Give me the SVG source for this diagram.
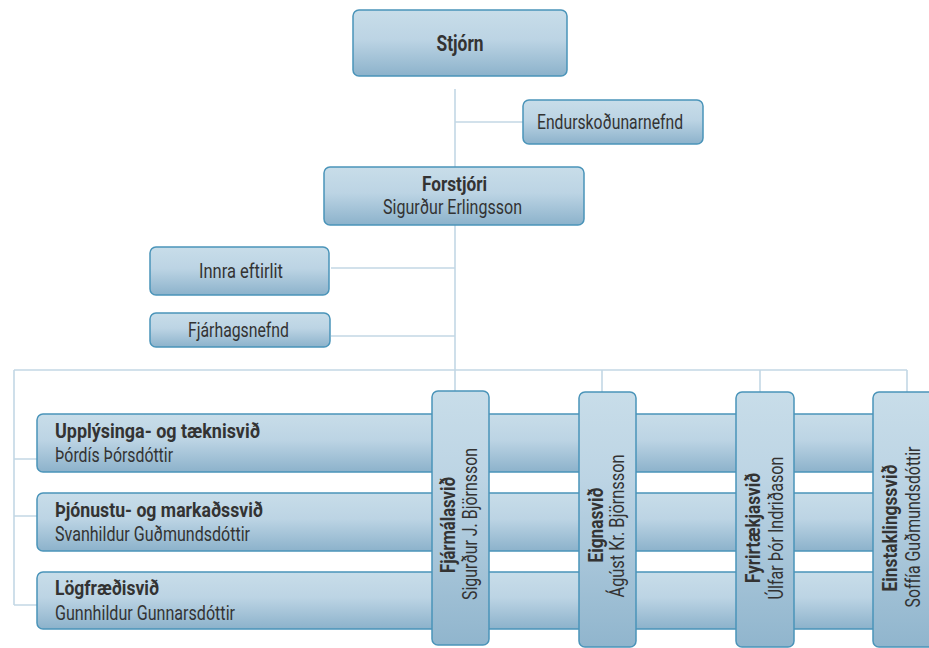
<svg xmlns="http://www.w3.org/2000/svg" width="929" height="648" viewBox="0 0 929 648">
<defs>
<linearGradient id="gv" x1="0" y1="0" x2="0" y2="1">
<stop offset="0" stop-color="#c8dde9"/>
<stop offset="0.45" stop-color="#bcd4e4"/>
<stop offset="1" stop-color="#8cb2cb"/>
</linearGradient>
<linearGradient id="gl" x1="0" y1="0" x2="0" y2="1">
<stop offset="0" stop-color="#c8dde9"/>
<stop offset="0.35" stop-color="#bcd4e4"/>
<stop offset="1" stop-color="#90b5cd"/>
</linearGradient>
<style>
.box{fill:url(#gv);stroke:#4a94b9;stroke-width:1.5}
.vbox{fill:url(#gl);stroke:#4a94b9;stroke-width:1.5}
.c{stroke:#c3d8e5;stroke-width:1.6;fill:none}
text{font-family:Roboto,"Liberation Sans",sans-serif;fill:#333;font-size:20px}
.b{font-weight:bold}
.m{text-anchor:middle}
.big{font-size:22.5px}
</style>
</defs>
<rect width="929" height="648" fill="#fff"/>
<g id="connectors">
<path class="c" d="M455 89V391M455 122H523M331 268H455M331 336H455M14 370H907M602 370V392M760 370V392M907 370V392M14 370V605M14 459H37M14 516H37M14 605H37"/>
</g>
<g id="stjorn">
<rect class="box" x="353" y="10" width="214" height="66" rx="6"/>
<text class="b m big" x="460" y="51" textLength="47" lengthAdjust="spacingAndGlyphs">Stjórn</text>
</g>
<g id="endurskodunarnefnd">
<rect class="box" x="523" y="100" width="180" height="44" rx="6"/>
<text class="m" x="610" y="129" textLength="146" lengthAdjust="spacingAndGlyphs">Endurskoðunarnefnd</text>
</g>
<g id="forstjori">
<rect class="box" x="324" y="167" width="260" height="58" rx="6"/>
<text class="b m" x="454.5" y="191" textLength="65" lengthAdjust="spacingAndGlyphs">Forstjóri</text>
<text class="m" x="452.5" y="214" textLength="139" lengthAdjust="spacingAndGlyphs">Sigurður Erlingsson</text>
</g>
<g id="innra-eftirlit">
<rect class="box" x="150" y="247" width="179" height="48" rx="6"/>
<text class="m" x="241" y="278" textLength="84" lengthAdjust="spacingAndGlyphs">Innra eftirlit</text>
</g>
<g id="fjarhagsnefnd">
<rect class="box" x="150" y="313" width="180" height="34" rx="6"/>
<text class="m" x="238.5" y="337" textLength="101" lengthAdjust="spacingAndGlyphs">Fjárhagsnefnd</text>
</g>
<g id="upplysinga">
<rect class="box" x="37" y="414" width="880" height="58" rx="6"/>
<text class="b" x="55" y="438" textLength="205" lengthAdjust="spacingAndGlyphs">Upplýsinga- og tæknisvið</text>
<text x="55" y="462" textLength="118" lengthAdjust="spacingAndGlyphs">Þórdís Þórsdóttir</text>
</g>
<g id="thjonustu">
<rect class="box" x="37" y="493" width="880" height="58" rx="6"/>
<text class="b" x="55" y="517" textLength="208" lengthAdjust="spacingAndGlyphs">Þjónustu- og markaðssvið</text>
<text x="55" y="541" textLength="195" lengthAdjust="spacingAndGlyphs">Svanhildur Guðmundsdóttir</text>
</g>
<g id="logfraedisvid">
<rect class="box" x="37" y="572" width="880" height="57" rx="6"/>
<text class="b" x="55" y="595" textLength="104" lengthAdjust="spacingAndGlyphs">Lögfræðisvið</text>
<text x="55" y="620" textLength="180" lengthAdjust="spacingAndGlyphs">Gunnhildur Gunnarsdóttir</text>
</g>
<g id="fjarmalasvid">
<rect class="vbox" x="432" y="391" width="57" height="254" rx="6"/>
<text class="b m" x="455" y="525" transform="rotate(-90 455 525)" textLength="96" lengthAdjust="spacingAndGlyphs">Fjármálasvið</text>
<text class="m" x="477" y="524" transform="rotate(-90 477 524)" textLength="152" lengthAdjust="spacingAndGlyphs">Sigurður J. Björnsson</text>
</g>
<g id="eignasvid">
<rect class="vbox" x="579" y="392" width="57" height="255" rx="6"/>
<text class="b m" x="603" y="525" transform="rotate(-90 603 525)" textLength="75" lengthAdjust="spacingAndGlyphs">Eignasvið</text>
<text class="m" x="624" y="526" transform="rotate(-90 624 526)" textLength="143" lengthAdjust="spacingAndGlyphs">Ágúst Kr. Björnsson</text>
</g>
<g id="fyrirtaekjasvid">
<rect class="vbox" x="736" y="392" width="58" height="255" rx="6"/>
<text class="b m" x="760" y="528" transform="rotate(-90 760 528)" textLength="110" lengthAdjust="spacingAndGlyphs">Fyrirtækjasvið</text>
<text class="m" x="783" y="528" transform="rotate(-90 783 528)" textLength="143" lengthAdjust="spacingAndGlyphs">Úlfar Þór Indriðason</text>
</g>
<g id="einstaklingssvid">
<rect class="vbox" x="873" y="392" width="62" height="255" rx="6"/>
<text class="b m" x="897" y="528" transform="rotate(-90 897 528)" textLength="127" lengthAdjust="spacingAndGlyphs">Einstaklingssvið</text>
<text class="m" x="920" y="527" transform="rotate(-90 920 527)" textLength="161" lengthAdjust="spacingAndGlyphs">Soffía Guðmundsdóttir</text>
</g>
</svg>
